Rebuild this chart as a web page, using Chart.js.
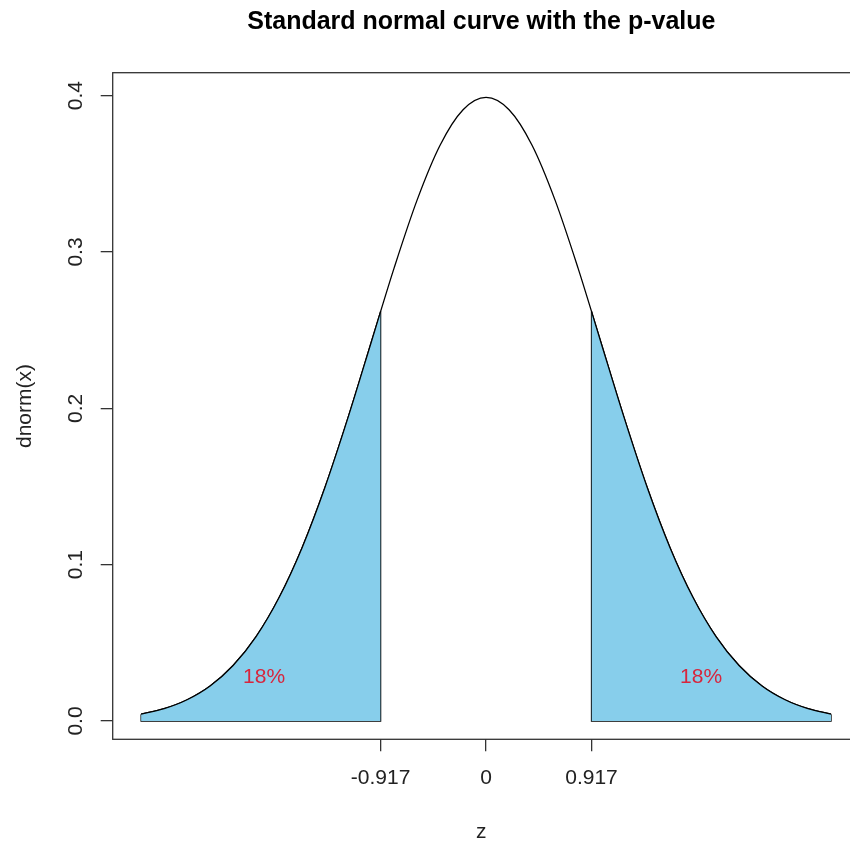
<!DOCTYPE html>
<html>
<head>
<meta charset="utf-8">
<script src="https://cdn.jsdelivr.net/npm/chart.js@4/dist/chart.umd.min.js"></script>
<style>
  body { margin: 0; background: #fff; }
  canvas { display: block; }
</style>
</head>
<body>
<canvas id="normalChart" width="850" height="846"></canvas>
<script>
// z と密度
const zValues = [-3, -2.8, -2.6, -2.4, -2.2, -2, -1.8, -1.6, -1.4, -1.2, -1, -0.917,
  -0.8, -0.6, -0.4, -0.2, 0, 0.2, 0.4, 0.6, 0.8, 0.917,
  1, 1.2, 1.4, 1.6, 1.8, 2, 2.2, 2.4, 2.6, 2.8, 3];
const density = [0.0044, 0.0079, 0.0136, 0.0224, 0.0355, 0.0540, 0.0790, 0.1109, 0.1497, 0.1942, 0.2420, 0.2620,
  0.2897, 0.3332, 0.3683, 0.3910, 0.3989, 0.3910, 0.3683, 0.3332, 0.2897, 0.2620,
  0.2420, 0.1942, 0.1497, 0.1109, 0.0790, 0.0540, 0.0355, 0.0224, 0.0136, 0.0079, 0.0044];

const zCut = 0.917;
const xTicks = [-0.917, 0, 0.917];
const xTickLabels = ["-0.917", "0", "0.917"];
const yTicks = [0, 0.1, 0.2, 0.3, 0.4];
const yTickLabels = ["0.0", "0.1", "0.2", "0.3", "0.4"];

// 18% ラベル
const pctLabels = ["18%", "18%"];
const pctX = [-1.93, 1.87];
const pctY = [0.028, 0.028];

const FONT = "'Liberation Sans', Arial, sans-serif";

const curve = zValues.map((z, i) => ({ x: z, y: density[i] }));
const leftTail = curve.filter(p => p.x <= -zCut);
const rightTail = curve.filter(p => p.x >= zCut);

// 塗りつぶし部分の外枠（縦線と底辺）
const leftEdge = [
  { x: leftTail[0].x, y: leftTail[0].y },
  { x: leftTail[0].x, y: 0 },
  { x: -zCut, y: 0 },
  { x: -zCut, y: leftTail[leftTail.length - 1].y }
];
const rightEdge = [
  { x: zCut, y: rightTail[0].y },
  { x: zCut, y: 0 },
  { x: rightTail[rightTail.length - 1].x, y: 0 },
  { x: rightTail[rightTail.length - 1].x, y: rightTail[rightTail.length - 1].y }
];

// 枠線と％ラベルを描くプラグイン
const boxPlugin = {
  id: "boxPlugin",
  afterDatasetsDraw(chart) {
    const { ctx, chartArea, scales } = chart;
    ctx.save();
    ctx.fillStyle = "#d7263d";
    ctx.font = "21px " + FONT;
    ctx.textAlign = "center";
    ctx.textBaseline = "middle";
    pctLabels.forEach((t, i) => {
      ctx.fillText(t, scales.x.getPixelForValue(pctX[i]), scales.y.getPixelForValue(pctY[i]));
    });
    ctx.strokeStyle = "#333";
    ctx.lineWidth = 1.3;
    // 右端はキャンバスの外
    ctx.strokeRect(chartArea.left, chartArea.top, chartArea.right - chartArea.left + 20, chartArea.bottom - chartArea.top);
    ctx.restore();
  }
};

const ctx = document.getElementById("normalChart").getContext("2d");
new Chart(ctx, {
  type: "line",
  data: {
    datasets: [
      {
        data: leftTail,
        fill: "origin",
        backgroundColor: "#87CEEB",
        borderColor: "#000",
        borderWidth: 1.3,
        pointRadius: 0,
        cubicInterpolationMode: "monotone"
      },
      {
        data: rightTail,
        fill: "origin",
        backgroundColor: "#87CEEB",
        borderColor: "#000",
        borderWidth: 1.3,
        pointRadius: 0,
        cubicInterpolationMode: "monotone"
      },
      {
        data: leftEdge,
        fill: false,
        borderColor: "#000",
        borderWidth: 1.3,
        pointRadius: 0,
        tension: 0
      },
      {
        data: rightEdge,
        fill: false,
        borderColor: "#000",
        borderWidth: 1.3,
        pointRadius: 0,
        tension: 0
      },
      {
        data: curve,
        fill: false,
        borderColor: "#000",
        borderWidth: 1.3,
        pointRadius: 0,
        cubicInterpolationMode: "monotone"
      }
    ]
  },
  options: {
    responsive: false,
    animation: false,
    devicePixelRatio: 1,
    layout: { padding: 0 },
    plugins: {
      legend: { display: false },
      tooltip: { enabled: false },
      title: {
        display: true,
        text: "Standard normal curve with the p-value",
        fullSize: false,
        color: "#000",
        font: { family: FONT, size: 25, weight: "bold" },
        padding: { top: 7, bottom: 35.7 }
      }
    },
    scales: {
      x: {
        type: "linear",
        min: -3.247,
        max: 3.165,
        afterBuildTicks: (scale) => { scale.ticks = xTicks.map(v => ({ value: v })); },
        afterFit: (scale) => { scale.height = 106.7; },
        ticks: {
          autoSkip: false,
          maxRotation: 0,
          color: "#222",
          padding: 14,
          font: { family: FONT, size: 21 },
          callback: (v) => xTickLabels[xTicks.indexOf(v)]
        },
        grid: { display: true, drawOnChartArea: false, drawTicks: true, tickLength: 12, color: "#333", lineWidth: 1.3 },
        border: { display: false },
        title: {
          display: true,
          text: "z",
          color: "#222",
          font: { family: FONT, size: 21 },
          padding: { top: 0, bottom: 1.5 }
        }
      },
      y: {
        type: "linear",
        min: -0.0117,
        max: 0.4147,
        afterBuildTicks: (scale) => { scale.ticks = yTicks.map(v => ({ value: v })); },
        afterFit: (scale) => { scale.width = 112.7; },
        ticks: {
          autoSkip: false,
          minRotation: 90,
          maxRotation: 90,
          crossAlign: "center",
          color: "#222",
          padding: 10,
          font: { family: FONT, size: 21 },
          callback: (v) => yTickLabels[yTicks.indexOf(v)]
        },
        grid: { display: true, drawOnChartArea: false, drawTicks: true, tickLength: 12, color: "#333", lineWidth: 1.3 },
        border: { display: false },
        title: {
          display: true,
          text: "dnorm(x)",
          color: "#222",
          font: { family: FONT, size: 21 },
          padding: { top: 12.4, bottom: 0 }
        }
      }
    }
  },
  plugins: [boxPlugin]
});
</script>
</body>
</html>
